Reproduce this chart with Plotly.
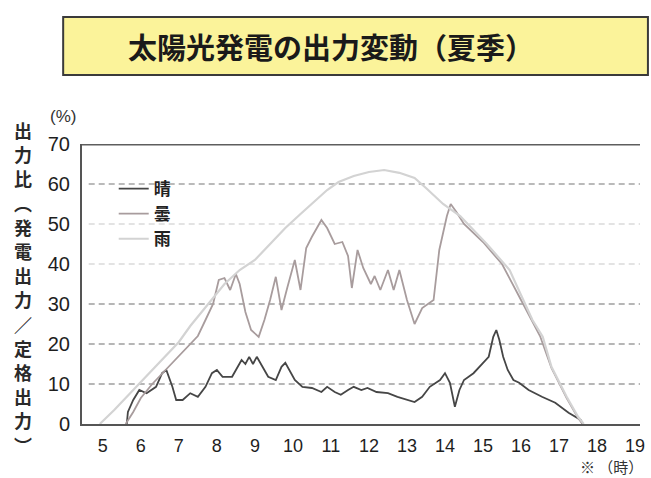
import plotly.graph_objects as go

# ---- data: output ratio (% of rated output) by hour of day ----
hours_a = [5.63, 5.66, 5.8, 5.96, 6.15, 6.4, 6.56, 6.67, 6.83, 6.93, 7.1, 7.3, 7.5, 7.7,
           7.87, 8.0, 8.15, 8.4, 8.65, 8.75, 8.85, 8.95, 9.05, 9.2, 9.35, 9.55, 9.7, 9.8,
           9.95, 10.05, 10.25, 10.5, 10.75, 10.9, 11.1, 11.26, 11.45, 11.6, 11.8, 11.96,
           12.2, 12.5, 12.75, 13.0, 13.2, 13.4, 13.6, 13.87, 14.0, 14.13, 14.26, 14.38,
           14.5, 14.75, 15.0, 15.15, 15.27, 15.35, 15.43, 15.53, 15.65, 15.8, 15.95, 16.2,
           16.55, 16.9, 17.25, 17.57, 17.62]
output_a = [0, 3, 6, 8.5, 7.7, 9.3, 12.7, 13.5, 9.3, 6, 6, 7.7, 6.8, 9.3,
            12.7, 13.5, 11.8, 11.8, 16, 15, 16.8, 15, 16.8, 14.3, 11.8, 11, 14.3, 15.3,
            12.7, 11, 9.3, 9, 8, 9.3, 8, 7.3, 8.5, 9.3, 8.5, 9,
            8, 7.7, 6.8, 6, 5.5, 6.8, 9.3, 11, 12.7, 10.3, 4.3, 8.5,
            11, 12.7, 15.3, 16.8, 21.8, 23.5, 21, 16.8, 13.5, 11, 10.3, 8.5,
            6.8, 5.3, 2.8, 1, 0]

hours_b = [5.6, 5.8, 6.0, 6.3, 6.6, 6.9, 7.2, 7.5, 7.7, 7.9, 8.05, 8.2, 8.35, 8.5, 8.6,
           8.75, 8.9, 9.1, 9.25, 9.4, 9.55, 9.7, 9.85, 10.05, 10.2, 10.35, 10.5, 10.75,
           10.9, 11.1, 11.3, 11.45, 11.55, 11.7, 11.85, 12.05, 12.15, 12.3, 12.5, 12.65,
           12.8, 13.0, 13.2, 13.4, 13.7, 13.85, 14.05, 14.15, 14.3, 14.5, 15.0, 15.5,
           16.0, 16.5, 16.8, 17.2, 17.5, 17.62]
output_b = [0, 3, 6.5, 10, 13, 16, 19, 22, 26, 30, 36, 36.5, 33.5, 37.5, 35,
            28, 23.5, 21.8, 26, 31, 36.8, 28.5, 34, 41, 33.5, 44, 46.8, 51,
            49, 45, 45.5, 42, 34, 43.5, 39, 35, 37, 33.5, 38.5, 33.5,
            38.5, 31, 25, 29, 31, 43.5, 52, 55, 53, 50, 45.5, 40,
            31, 22, 14, 6.5, 1.5, 0]

hours_c = [4.92, 5.3, 5.7, 6.0, 6.5, 7.0, 7.3, 7.6, 7.8, 8.2, 8.6, 9.0, 9.4, 9.8, 10.2,
           10.6, 10.9, 11.2, 11.6, 12.0, 12.4, 12.8, 13.2, 13.5, 13.95, 14.4, 15.1, 15.7,
           16.05, 16.3, 16.57, 16.8, 17.2, 17.5, 17.65]
output_c = [0, 3.5, 7.5, 10.5, 15.5, 20.5, 24.5, 28, 30.5, 35, 38.5, 41, 45, 49, 52.5,
            56, 58.5, 60.5, 62, 63, 63.5, 62.8, 61.5, 59, 55, 52, 45, 38.5,
            31, 26, 21.8, 14.3, 6.8, 1.8, 0]

series_names = ["晴", "曇", "雨"]
x_ticks = list(range(5, 20))
y_ticks = list(range(0, 80, 10))
grid_levels = [10, 20, 30, 40, 50, 60]
ylabel_chars = list("出力比︵発電出力／定格出力︶")

# ---- styling ----
line_colors = ["#464646", "#a89c9d", "#d3d3d3"]
line_widths = [1.8, 1.8, 2.2]
grid_colors = {10: "#6e6e6e", 20: "#6e6e6e", 30: "#6e6e6e",
               40: "#c8c8c8", 50: "#c8c8c8", 60: "#777777"}

W, H = 651, 478
L, R, T, B = 82, 645, 144, 424          # plot area in pixels


def px(xp):
    return (xp - L) / (R - L)


def py(yp):
    return (B - yp) / (B - T)


fig = go.Figure()
for name, xs, ys, col, lw in zip(series_names,
                                 [hours_a, hours_b, hours_c],
                                 [output_a, output_b, output_c],
                                 line_colors, line_widths):
    fig.add_trace(go.Scatter(x=xs, y=ys, mode="lines", name=name,
                             line=dict(color=col, width=lw, shape="linear")))

shapes = []
for lv in grid_levels:
    shapes.append(dict(type="line", xref="paper", yref="y", x0=0.012, x1=1,
                       y0=lv, y1=lv, layer="below",
                       line=dict(color=grid_colors[lv], width=1.2, dash="6px,4px")))
# top border of the frame
shapes.append(dict(type="line", xref="paper", yref="y", x0=0, x1=1, y0=70, y1=70,
                   line=dict(color="#5e5e5e", width=3)))
# title box
shapes.append(dict(type="rect", xref="paper", yref="paper",
                   x0=px(63), x1=px(653), y0=py(75), y1=py(17),
                   fillcolor="#fbf39a", line=dict(color="#3a3a3a", width=2),
                   layer="below"))

jp = "Noto Sans CJK JP"


def note(text, xp, yp, size, family=jp, color="#222", xanchor="center", weight="normal"):
    return dict(text=text, xref="paper", yref="paper", x=px(xp), y=py(yp),
                xanchor=xanchor, yanchor="middle", showarrow=False,
                font=dict(family=family, size=size, color=color, weight=weight))


annotations = [
    note("太陽光発電の出力変動（夏季）", 333, 46, 29, color="#1a1a1a", weight="bold"),
    note("(%)", 63, 117, 17, family="Liberation Sans", color="#333"),
    note("※ （時）", 582, 466, 15, color="#333", xanchor="left"),
]
# vertical axis caption, one upright character per row
for i, ch in enumerate(ylabel_chars):
    annotations.append(note(ch, 22, 130 + i * 24.2, 18, color="#2a2a2a", weight="bold"))

fig.update_layout(
    width=W, height=H, autosize=False,
    margin=dict(l=L, r=W - R, t=T, b=H - B, pad=0),
    paper_bgcolor="white", plot_bgcolor="white",
    showlegend=True,
    legend=dict(x=px(114), y=py(171), xanchor="left", yanchor="top",
                bgcolor="rgba(0,0,0,0)",
                font=dict(family=jp, size=17, color="#222", weight="bold"),
                itemwidth=30, tracegroupgap=0),
    shapes=shapes, annotations=annotations,
    xaxis=dict(range=[5 + (L - 103) / 38.36, 5 + (R - 103) / 38.36],
               tickvals=x_ticks, ticktext=[str(t) for t in x_ticks],
               showgrid=False, zeroline=False, showline=True,
               linecolor="#555", linewidth=2, ticks="",
               ticklabelstandoff=4,
               tickfont=dict(family="Liberation Sans", size=18, color="#1e1e1e")),
    yaxis=dict(range=[0, 70], tickvals=y_ticks, ticktext=[str(t) for t in y_ticks],
               showgrid=False, zeroline=False, showline=True,
               linecolor="#555", linewidth=2, ticks="",
               ticklabelstandoff=6,
               tickfont=dict(family="Liberation Sans", size=20, color="#1e1e1e")),
)

fig.write_html("out.html")
